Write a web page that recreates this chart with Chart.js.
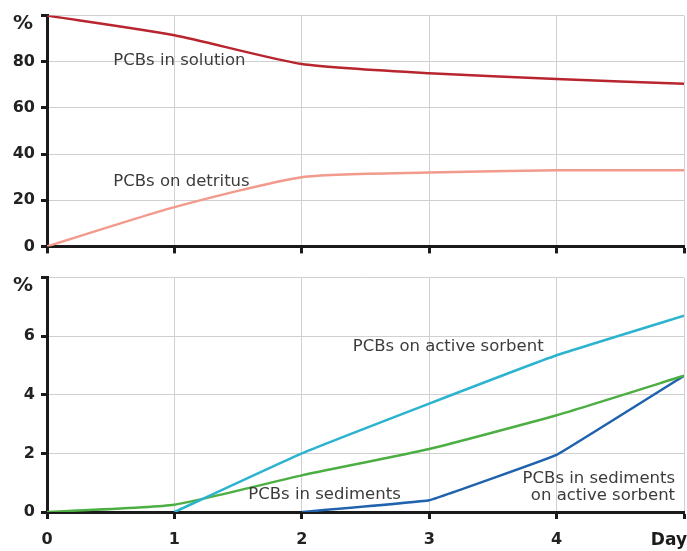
<!DOCTYPE html>
<html>
<head>
<meta charset="utf-8">
<script src="https://cdn.jsdelivr.net/npm/chart.js@4/dist/chart.umd.min.js"></script>
<style>
  html, body { margin: 0; padding: 0; background: #fff; }
  #wrap { position: relative; width: 687px; height: 551px; }
  #c1 { position: absolute; left: 0; top: 0; }
  #c2 { position: absolute; left: 0; top: 262px; }
</style>
</head>
<body>
<div id="wrap">
  <canvas id="c1" width="687" height="262"></canvas>
  <canvas id="c2" width="687" height="289"></canvas>
</div>
<script>
// ---- data ----
const days = [0, 1, 2, 3, 4, 5];
const topYTicks = [0, 20, 40, 60, 80, 100];
const bottomYTicks = [0, 2, 4, 6, 8];
const inSolution = [100, 91.5, 79, 75, 72.5, 70.5];
const onDetritus = [0, 17, 30, 32, 33, 33];
const onActiveSorbent = [null, 0, 2.0, 3.7, 5.35, 6.7];
const inSediments = [0, 0.25, 1.25, 2.15, 3.3, 4.65];
const inSedimentsOnSorbent = [null, null, 0, 0.4, 1.95, 4.65];
const labelsTop = ["PCBs in solution", "PCBs on detritus"];
const labelsBottom = ["PCBs on active sorbent", "PCBs in sediments", "PCBs in sediments", "on active sorbent"];
const unitLabel = "%";
const xAxisTitle = "Day";

const FONT = "'DejaVu Sans', Verdana, sans-serif";
const pts = arr => days.map((d, i) => ({ x: d, y: arr[i] }));

function makeX(showLabels, height) {
  return {
    type: 'linear', min: 0, max: 5,
    afterBuildTicks: s => { s.ticks = days.map(v => ({ value: v })); },
    afterFit: s => { s.height = height; s.paddingLeft = 0; s.paddingRight = 0; },
    grid: { color: '#d0d0d0', lineWidth: 1, tickLength: 7, tickColor: '#1a1a1a', tickWidth: 3, drawOnChartArea: true },
    border: { display: true, color: '#1a1a1a', width: 3 },
    ticks: {
      display: showLabels,
      callback: v => (v === 5 ? '' : String(v)),
      color: '#222', font: { family: FONT, size: 16, weight: 'bold' }, padding: 11, maxRotation: 0
    }
  };
}
function makeY(tickVals, max) {
  return {
    type: 'linear', min: 0, max: max,
    afterBuildTicks: s => { s.ticks = tickVals.map(v => ({ value: v })); },
    afterFit: s => { s.width = 47; },
    grid: { color: '#d0d0d0', lineWidth: 1, tickLength: 6, tickColor: '#1a1a1a', tickWidth: 3 },
    border: { display: true, color: '#1a1a1a', width: 3 },
    ticks: {
      callback: v => (v === max ? '' : String(v)),
      color: '#222', font: { family: FONT, size: 16, weight: 'bold' }, padding: 6
    }
  };
}

const textPlugin = {
  id: 'texts',
  afterDatasetsDraw(chart, args, opts) {
    const ctx = chart.ctx, x = chart.scales.x, y = chart.scales.y;
    ctx.save();
    ctx.font = '16.5px ' + FONT;
    ctx.fillStyle = '#3c3c3c';
    ctx.textBaseline = 'middle';
    (opts.items || []).forEach(it => {
      ctx.textAlign = it.align || 'left';
      ctx.fillText(it.text, x.getPixelForValue(it.x), y.getPixelForValue(it.y));
    });
    // unit label in place of the top y tick
    ctx.font = 'bold 20px ' + FONT;
    ctx.fillStyle = '#222';
    ctx.textAlign = 'right';
    ctx.textBaseline = 'middle';
    ctx.fillText(unitLabel, 33, chart.chartArea.top + 8);
    if (opts.dayLabel) {
      ctx.font = 'bold 17px ' + FONT;
      ctx.fillStyle = '#1a1a1a';
      ctx.textAlign = 'right';
      ctx.textBaseline = 'middle';
      ctx.fillText(opts.dayLabel, x.getPixelForValue(5) + 3, chart.chartArea.bottom + 29);
    }
    ctx.restore();
  }
};

const lineDs = (data, color, tension) => ({
  data: pts(data), borderColor: color, borderWidth: 2.5, pointRadius: 0,
  tension: tension, fill: false, spanGaps: false
});

new Chart(document.getElementById('c1'), {
  type: 'line',
  data: { datasets: [lineDs(inSolution, '#b8252e', 0.2), lineDs(onDetritus, '#f29a8c', 0.2)] },
  options: {
    responsive: false, animation: false,
    layout: { padding: { top: 14, right: 3, left: 0, bottom: 0 } },
    plugins: {
      legend: { display: false }, tooltip: { enabled: false },
      texts: { items: [
        { text: labelsTop[0], x: 0.52, y: 80.5 },
        { text: labelsTop[1], x: 0.52, y: 28 }
      ] }
    },
    scales: { x: makeX(false, 15), y: makeY(topYTicks, 100) }
  },
  plugins: [textPlugin]
});

new Chart(document.getElementById('c2'), {
  type: 'line',
  data: { datasets: [
    lineDs(onActiveSorbent, '#2bb3cf', 0.1),
    lineDs(inSediments, '#4cae43', 0.15),
    lineDs(inSedimentsOnSorbent, '#1f62ad', 0.05)
  ] },
  options: {
    responsive: false, animation: false,
    layout: { padding: { top: 13, right: 3, left: 0, bottom: 0 } },
    plugins: {
      legend: { display: false }, tooltip: { enabled: false },
      texts: {
        dayLabel: xAxisTitle,
        items: [
          { text: labelsBottom[0], x: 2.4, y: 5.65 },
          { text: labelsBottom[1], x: 1.58, y: 0.58 },
          { text: labelsBottom[2], x: 4.93, y: 1.12, align: 'right' },
          { text: labelsBottom[3], x: 4.93, y: 0.55, align: 'right' }
        ]
      }
    },
    scales: { x: makeX(true, 39), y: makeY(bottomYTicks, 8) }
  },
  plugins: [textPlugin]
});
</script>
</body>
</html>
